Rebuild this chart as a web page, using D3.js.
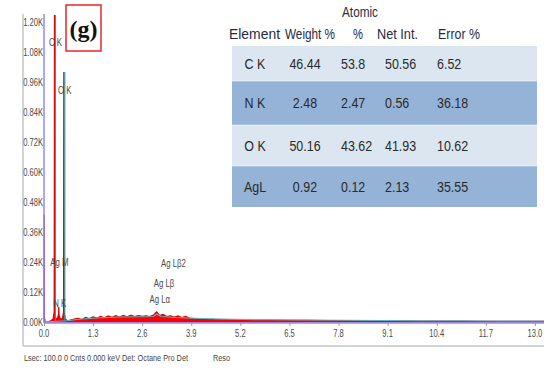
<!DOCTYPE html>
<html>
<head>
<meta charset="utf-8">
<script src="https://cdn.jsdelivr.net/npm/d3@7"></script>
<style>
  body { margin: 0; background: #fff; }
  svg { display: block; }
</style>
</head>
<body>
<svg id="chart" width="544" height="369"></svg>
<script>
// ---- EDS spectrum (keV vs counts) ----
const energy = [0.00, 0.005, 0.012, 0.03, 0.10, 0.18, 0.24, 0.27, 0.277, 0.284, 0.31, 0.35, 0.385, 0.392, 0.40, 0.44,
  0.49, 0.518, 0.525, 0.532, 0.56, 0.62,
  0.70, 0.80, 0.90, 1.00, 1.10, 1.20, 1.30, 1.40, 1.50, 1.60, 1.70, 1.80, 1.90, 2.00, 2.10, 2.20, 2.30, 2.40,
  2.50, 2.60, 2.70, 2.80, 2.90, 2.98, 3.06, 3.15, 3.25, 3.35, 3.45, 3.55, 3.65, 3.75, 3.85, 3.95, 4.20, 4.50,
  5.00, 5.50, 6.00, 6.50, 7.00, 7.50, 8.00, 8.50, 9.00, 9.50, 10.0, 10.5, 11.0, 11.5, 12.0, 12.5, 13.0, 13.25];
const counts = [0, 430, 20, 0, 0, 5, 12, 40, 1228, 40, 15, 10, 30, 60, 25, 10,
  15, 40, 1000, 40, 12, 5,
  8, 12, 15, 10, 18, 14, 20, 16, 22, 17, 24, 19, 25, 20, 26, 21, 27, 22,
  26, 23, 25, 22, 28, 40, 26, 30, 22, 25, 20, 24, 18, 22, 16, 14, 12, 10,
  9, 8, 8, 7, 7, 6, 6, 5, 5, 5, 4, 4, 4, 3, 3, 3, 3, 3];

// fitted background
const fitEnergy = [0.0, 0.6, 1.0, 1.5, 2.0, 2.5, 2.9, 2.98, 3.1, 3.5, 4.0, 5.0, 6.0, 7.0, 8.0, 9.0, 10.0, 11.0, 12.0, 13.25];
const fitCounts = [0, 5, 12, 17, 20, 21, 22, 32, 22, 18, 15, 11, 9, 8, 7, 6, 5, 5, 4, 4];

// element markers: line energy, peak height, label level (counts)
const markerNames = ['C K', 'O K', 'Ag M', 'N K', 'Ag L\u03b1', 'Ag L\u03b2', 'Ag L\u03b22'];
const markerKeV   = [0.277, 0.525, 0.38, 0.392, 3.04, 3.151, 3.40];
const markerPeak  = [1228, 1000, 0, 0, 0, 0, 0];
const markerLevel = [1120, 928, 240, 76, 92, 156, 236];

const yTicks = [0, 120, 240, 360, 480, 600, 720, 840, 960, 1080, 1200];
const xTicks = [0.0, 1.3, 2.6, 3.9, 5.2, 6.5, 7.8, 9.1, 10.4, 11.7, 13.0];

// ---- quantification table ----
const elements  = ['C K', 'N K', 'O K', 'AgL'];
const weightPct = ['46.44', '2.48', '50.16', '0.92'];
const atomicPct = ['53.8', '2.47', '43.62', '0.12'];
const netInt    = ['50.56', '0.56', '41.93', '2.13'];
const errorPct  = ['6.52', '36.18', '10.62', '35.55'];

const svg = d3.select('#chart');
const FONT = "'Liberation Sans', Arial, sans-serif";

const x = d3.scaleLinear().domain([0, 13.24]).range([44, 544]);
const y = d3.scaleLinear().domain([0, 1200]).range([322, 22]);

function label(g, str, px, py, size, sx, anchor, fill, extra) {
  const t = g.append('text')
    .attr('transform', `translate(${px},${py}) scale(${sx},1)`)
    .attr('font-family', FONT)
    .attr('font-size', size)
    .attr('text-anchor', anchor)
    .attr('fill', fill)
    .text(str);
  if (extra) extra(t);
  return t;
}

// outer frame
svg.append('line').attr('x1', 23).attr('x2', 23).attr('y1', 14).attr('y2', 346)
  .attr('stroke', '#c4c4c4').attr('stroke-width', 1.5);
svg.append('line').attr('x1', 23).attr('x2', 544).attr('y1', 346).attr('y2', 346)
  .attr('stroke', '#c4c4c4').attr('stroke-width', 1.5);

// spectrum
const pts = energy.map((e, i) => [e, counts[i]]);
svg.append('path').datum(pts)
  .attr('d', d3.area().x(d => x(d[0])).y0(y(0)).y1(d => y(d[1])))
  .attr('fill', '#ff0000').attr('stroke', '#e00000').attr('stroke-width', 1.2);

const fitPts = fitEnergy.map((e, i) => [e, fitCounts[i]]);
svg.append('path').datum(fitPts)
  .attr('d', d3.line().x(d => x(d[0])).y(d => y(d[1])))
  .attr('fill', 'none').attr('stroke', '#5fb8c0').attr('stroke-width', 1.2);

// marker lines
markerKeV.forEach((k, i) => {
  if (markerPeak[i] > 0) {
    svg.append('line')
      .attr('x1', x(k) + 1).attr('x2', x(k) + 1)
      .attr('y1', y(markerPeak[i])).attr('y2', y(0))
      .attr('stroke', '#2f9e9e').attr('stroke-width', 1.1);
  }
});

// axes
const axY = svg.append('g').attr('transform', 'translate(44,0)')
  .call(d3.axisLeft(y).tickValues(yTicks).tickSize(0).tickFormat(d => (d / 1000).toFixed(2) + 'K'));
axY.select('.domain').remove();
axY.selectAll('text').remove();
yTicks.forEach(v => label(svg, (v / 1000).toFixed(2) + 'K', 43, y(v) + 3.5, 10, 0.76, 'end', '#4a4a4a'));

const axX = svg.append('g').attr('transform', 'translate(0,323)')
  .call(d3.axisBottom(x).tickValues(xTicks).tickSize(3).tickFormat(d => d.toFixed(1)));
axX.select('.domain').remove();
axX.selectAll('line').attr('stroke', '#999');
axX.selectAll('text').remove();
xTicks.forEach(v => label(svg, v.toFixed(1), x(v), 337, 10, 0.76, 'middle', '#4a4a4a'));

svg.append('line').attr('x1', 44).attr('x2', 44).attr('y1', 14).attr('y2', 323)
  .attr('stroke', '#8b8bff').attr('stroke-width', 1.5);
svg.append('line').attr('x1', 44).attr('x2', 544).attr('y1', 323).attr('y2', 323)
  .attr('stroke', '#8b8bff').attr('stroke-width', 1.5);

// marker labels
markerNames.forEach((n, i) => {
  label(svg, n, x(markerKeV[i]) + 1, y(markerLevel[i]) + 3.5, 10, 0.78, 'middle', '#4a4a4a');
});

// panel tag
svg.append('rect').attr('x', 66).attr('y', 5).attr('width', 35).attr('height', 46)
  .attr('fill', 'none').attr('stroke', '#e8262b').attr('stroke-width', 1.5);
svg.append('text').attr('x', 83.5).attr('y', 37)
  .attr('font-family', "'Liberation Serif', 'Times New Roman', serif")
  .attr('font-size', 24).attr('font-weight', 'bold').attr('text-anchor', 'middle')
  .attr('fill', '#111').text('(g)');

// table
const tbl = svg.append('g');
const rowEdges = [46, 81, 125, 166, 207];
const rowFill = ['#dce6f1', '#95b3d7', '#dce6f1', '#95b3d7'];
elements.forEach((e, i) => {
  tbl.append('rect').attr('x', 232).attr('y', rowEdges[i]).attr('width', 305)
    .attr('height', rowEdges[i + 1] - rowEdges[i]).attr('fill', rowFill[i]);
});
rowEdges.slice(1, 4).forEach(r => {
  tbl.append('line').attr('x1', 232).attr('x2', 537).attr('y1', r).attr('y2', r)
    .attr('stroke', '#ffffff').attr('stroke-opacity', 0.5).attr('stroke-width', 1);
});

const hdrColor = '#1f2c44';
const fit = w => t => t.attr('textLength', w).attr('lengthAdjust', 'spacingAndGlyphs');
label(tbl, 'Atomic', 360, 17, 15.5, 1, 'middle', hdrColor, fit(36));
label(tbl, 'Element', 254.5, 38.5, 15.5, 1, 'middle', hdrColor, fit(51));
label(tbl, 'Weight %', 310, 38.5, 15.5, 1, 'middle', hdrColor, fit(50));
label(tbl, '%', 358, 38.5, 15.5, 1, 'middle', hdrColor, fit(10));
label(tbl, 'Net Int.', 397.5, 38.5, 15.5, 1, 'middle', hdrColor, fit(41));
label(tbl, 'Error %', 459, 38.5, 15.5, 1, 'middle', hdrColor, fit(42));

const cellColor = '#2a2a2a';
elements.forEach((e, i) => {
  const cy = (rowEdges[i] + rowEdges[i + 1]) / 2 + 5;
  label(tbl, e, 255, cy, 14.5, 0.86, 'middle', cellColor);
  label(tbl, weightPct[i], 305, cy, 14.5, 0.86, 'middle', cellColor);
  label(tbl, atomicPct[i], 341, cy, 14.5, 0.86, 'start', cellColor);
  label(tbl, netInt[i], 385, cy, 14.5, 0.86, 'start', cellColor);
  label(tbl, errorPct[i], 437, cy, 14.5, 0.86, 'start', cellColor);
});

// status line
label(svg, 'Lsec: 100.0 0 Cnts  0.000 keV Det: Octane Pro Det', 24, 361, 8.5, 1, 'start', '#444', fit(164));
label(svg, 'Reso', 213, 361, 8.5, 1, 'start', '#444', fit(17));
</script>
</body>
</html>
